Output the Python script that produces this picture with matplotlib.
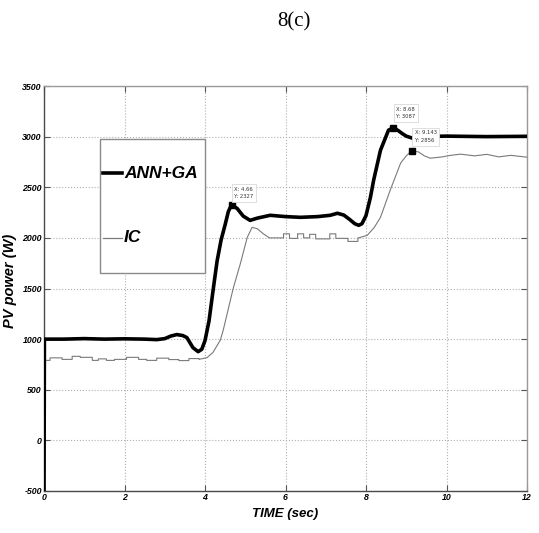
import matplotlib
matplotlib.use("Agg")
import matplotlib.pyplot as plt
from matplotlib.patches import Rectangle
from matplotlib.lines import Line2D

# ---------------- data ----------------
ann_t = [0.0, 0.01, 0.5, 1.0, 1.5, 2.0, 2.5, 2.8, 3.0, 3.15, 3.3, 3.45, 3.55,
         3.7, 3.83, 3.92, 4.0, 4.1, 4.2, 4.3, 4.4, 4.5, 4.58, 4.66, 4.8,
         4.95, 5.12, 5.3, 5.62, 6.0, 6.37, 6.8, 7.11, 7.29, 7.45, 7.6, 7.72,
         7.82, 7.9, 8.0, 8.11, 8.19, 8.36, 8.56, 8.68, 8.8, 8.9, 9.0, 9.15,
         9.3, 10.0, 11.0, 12.0]
ann_p = [-600, 1000, 1000, 1005, 1000, 1003, 1000, 995, 1005, 1030, 1045,
         1035, 1015, 916, 876, 900, 985, 1180, 1480, 1770, 1980, 2130, 2260,
         2327, 2290, 2215, 2173, 2195, 2223, 2210, 2203, 2210, 2223, 2243,
         2225, 2180, 2140, 2124, 2140, 2220, 2400, 2570, 2866, 3064, 3087,
         3060, 3030, 3005, 2985, 3000, 3005, 3000, 3003]

ic_t = [0.0, 0.01, 0.15, 0.15, 0.45, 0.45, 0.7, 0.7, 0.9, 0.9, 1.2, 1.2,
        1.35, 1.35, 1.55, 1.55, 1.75, 1.75, 2.05, 2.05, 2.35, 2.35, 2.55,
        2.55, 2.8, 2.8, 3.1, 3.1, 3.35, 3.35, 3.6, 3.6, 3.85, 3.85, 4.05,
        4.2, 4.38, 4.45, 4.7, 4.88, 5.05, 5.17, 5.3, 5.45, 5.6, 5.95, 5.95,
        6.1, 6.1, 6.3, 6.3, 6.45, 6.45, 6.6, 6.6, 6.75, 6.75, 7.1, 7.1, 7.25,
        7.25, 7.55, 7.55, 7.8, 7.8, 7.86, 8.03, 8.2, 8.36, 8.6, 8.86, 9.0,
        9.1, 9.143, 9.3, 9.45, 9.6, 9.9, 10.1, 10.35, 10.7, 11.0, 11.3, 11.6,
        12.0]
ic_p = [-600, 790, 790, 815, 815, 800, 800, 830, 830, 820, 820, 790, 790,
        805, 805, 790, 790, 800, 800, 820, 820, 800, 800, 790, 790, 812, 812,
        798, 798, 788, 788, 808, 808, 800, 817, 870, 990, 1084, 1500, 1748,
        2005, 2104, 2090, 2040, 2000, 2000, 2040, 2040, 1995, 1995, 2040,
        2040, 2000, 2000, 2035, 2035, 1990, 1990, 2040, 2040, 1995, 1995,
        1965, 1965, 2000, 2005, 2025, 2100, 2203, 2470, 2738, 2810, 2847,
        2856, 2850, 2810, 2787, 2800, 2815, 2827, 2810, 2825, 2800, 2815,
        2797]

series_names = ["ANN+GA", "IC"]

tips = [(4.66, 2327), (8.68, 3087), (9.143, 2856)]
tip_labels = ["X: 4.66\nY: 2327", "X: 8.68\nY: 3087", "X: 9.143\nY: 2856"]

x_ticks = [0, 2, 4, 6, 8, 10, 12]
y_ticks = [-500, 0, 500, 1000, 1500, 2000, 2500, 3000, 3500]

# ---------------- figure ----------------
sans = ['Liberation Sans', 'DejaVu Sans']

fig = plt.figure(figsize=(5.39, 5.33), dpi=100)
ax = fig.add_axes([44 / 539, 1 - 491 / 533, 483 / 539, 405 / 533])

ax.plot(ic_t, ic_p, color='#7a7a7a', lw=0.8, zorder=3)
ax.plot(ann_t, ann_p, color='black', lw=2.6, zorder=4,
        solid_joinstyle='round')

ax.set_xlim(0, 12)
ax.set_ylim(-500, 3500)
ax.set_xticks(x_ticks)
ax.set_yticks(y_ticks)
ax.set_xticklabels([str(v) for v in x_ticks])
ax.set_yticklabels([str(v) for v in y_ticks])

for lab in ax.get_xticklabels() + ax.get_yticklabels():
    lab.set_family(sans)
    lab.set_fontweight('bold')
    lab.set_fontstyle('italic')
    lab.set_fontsize(6.3)

ax.tick_params(direction='in', length=4, width=0.8, color='#555555',
               top=True, right=True, pad=1.5)
ax.grid(True, linestyle=':', color='#b0b0b0', lw=0.8)
ax.set_axisbelow(True)

for side in ['left', 'bottom']:
    ax.spines[side].set_color('#4a4a4a')
for side in ['top', 'right']:
    ax.spines[side].set_color('#9a9a9a')
for s in ax.spines.values():
    s.set_linewidth(1.0)

ax.set_xlabel('TIME (sec)', family=sans, fontweight='bold',
              fontstyle='italic', fontsize=9.5)
ax.xaxis.set_label_coords(0.5, -0.042)
ax.set_ylabel('PV power (W)', family=sans, fontweight='bold',
              fontstyle='italic', fontsize=10.5)
ax.yaxis.set_label_coords(-0.056, 0.52)

# data tips
offsets = [(2, 4), (2, 6), (2, 6)]
for (tx, ty), lbl, off in zip(tips, tip_labels, offsets):
    ax.plot([tx], [ty], marker='s', ms=4.5, color='black', zorder=6)
    ax.annotate(lbl, (tx, ty), xytext=off, textcoords='offset points',
                fontsize=3.8, family='DejaVu Sans', color='#333333',
                ha='left', va='bottom', zorder=7, linespacing=1.6,
                bbox=dict(boxstyle='square,pad=0.5', fc='white',
                          ec='#d8d8d8', lw=0.6))

# legend box (manual, MATLAB style)
x0, y0 = (100 - 44) / 483, (491 - 273) / 405
x1, y1 = (205 - 44) / 483, (491 - 139) / 405
ax.add_patch(Rectangle((x0, y0), x1 - x0, y1 - y0, transform=ax.transAxes,
                       fc='white', ec='#8a8a8a', lw=1.0, zorder=8))
ly = [(491 - 173) / 405, (491 - 238) / 405]
lx0, lx1 = (103 - 44) / 483, (122 - 44) / 483
tx0 = (124 - 44) / 483
styles = [dict(color='black', lw=2.6), dict(color='#7a7a7a', lw=0.9)]
for yy, name, st in zip(ly, series_names, styles):
    ax.add_line(Line2D([lx0, lx1], [yy, yy], transform=ax.transAxes,
                       zorder=9, **st))
    ax.text(tx0, yy, name, transform=ax.transAxes, family=sans,
            fontweight='bold', fontstyle='italic', fontsize=12.5,
            va='center', ha='left', zorder=9)

fig.text(294 / 539, 1 - 22 / 533, '8(c)', family=['Liberation Serif'],
         fontsize=15, ha='center', va='center')

fig.savefig('out.png', dpi=100)
